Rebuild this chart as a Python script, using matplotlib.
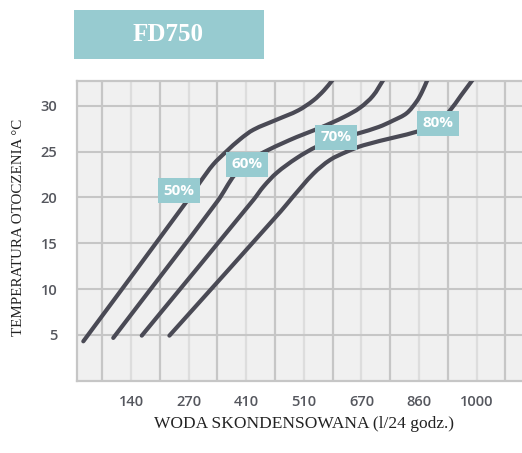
import matplotlib
matplotlib.use("Agg")
import numpy as np
import matplotlib.pyplot as plt
from matplotlib.patches import Rectangle, PathPatch
from matplotlib.path import Path

# ---- data (x in grid-position units of the non-linear axis) ----
tick_pos = [2, 4, 6, 8, 10, 12, 14]
tick_labels = ["140", "270", "410", "510", "670", "860", "1000"]
y_ticks = [5, 10, 15, 20, 25, 30]

x50 = [0.34, 3.93, 4.40, 4.85, 5.30, 5.80, 6.25, 7.06, 7.80, 8.33, 8.70, 9.00]
y50 = [4.30, 19.57, 21.70, 23.60, 25.00, 26.40, 27.40, 28.50, 29.50, 30.60, 31.70, 32.84]

x60 = [1.38, 5.00, 5.60, 6.10, 6.77, 7.75, 8.56, 9.40, 9.95, 10.40, 10.76]
y60 = [4.67, 19.60, 22.50, 24.00, 25.20, 26.60, 27.60, 28.80, 29.80, 31.10, 32.84]

x70 = [2.37, 6.25, 6.60, 7.06, 7.75, 8.45, 9.10, 9.89, 10.60, 11.10, 11.57, 11.92, 12.10, 12.29]
y70 = [4.92, 19.75, 21.20, 22.70, 24.30, 25.56, 26.30, 27.00, 27.70, 28.40, 29.20, 30.50, 31.50, 32.84]

x80 = [3.33, 7.20, 7.60, 8.33, 8.91, 9.49, 10.07, 11.20, 11.94, 12.60, 13.05, 13.45, 13.86]
y80 = [4.92, 18.50, 20.00, 22.60, 24.10, 25.00, 25.70, 26.60, 27.20, 28.00, 29.40, 31.10, 32.84]

series_labels = ["50%", "60%", "70%", "80%"]
label_x = [3.67, 6.03, 9.12, 12.67]
label_y = [20.71, 23.65, 26.60, 28.11]

title = "FD750"
xlabel = "WODA SKONDENSOWANA (l/24 godz.)"
ylabel = "TEMPERATURA OTOCZENIA °C"

# ---- style ----
W, H = 522, 453
LINE = "#4a4a55"
TEAL = "#97cbd0"
BG = "#f0f0f0"
GRID_DARK = "#c6c6c6"
GRID_LIGHT = "#dddddd"
TICK = "#55575e"

fig = plt.figure(figsize=(W / 100, H / 100), dpi=100)
fig.patch.set_facecolor("white")

ax = fig.add_axes([76.7 / W, 72.3 / H, 457.5 / W, 300 / H])
ax.set_facecolor(BG)
ax.set_xlim(0.11, 16)
ax.set_ylim(0, 32.75)

# vertical grid lines
for gx in range(1, 16):
    ax.axvline(gx, color=GRID_DARK if gx % 2 == 1 else GRID_LIGHT, lw=1.6, zorder=1)
for gy in y_ticks:
    ax.axhline(gy, color=GRID_DARK, lw=1.5, zorder=1)

for s in ax.spines.values():
    s.set_color(GRID_DARK)
    s.set_linewidth(1.6)
ax.spines["right"].set_visible(False)


def smooth_path(xs, ys, sx=28.79, sy=9.172):
    """Bezier path through the given points (drawing only)."""
    P = np.column_stack([np.asarray(xs) * sx, np.asarray(ys) * sy])
    n = len(P)
    verts = [P[0]]
    codes = [Path.MOVETO]
    tang = []
    for i in range(n):
        a = P[max(i - 1, 0)]
        b = P[min(i + 1, n - 1)]
        d = b - a
        tang.append(d / (np.hypot(*d) + 1e-9))
    for i in range(n - 1):
        L = np.hypot(*(P[i + 1] - P[i]))
        c1 = P[i] + tang[i] * L / 3
        c2 = P[i + 1] - tang[i + 1] * L / 3
        verts += [c1, c2, P[i + 1]]
        codes += [Path.CURVE4] * 3
    V = np.array(verts)
    V[:, 0] /= sx
    V[:, 1] /= sy
    return Path(V, codes)


for xs, ys in [(x50, y50), (x60, y60), (x70, y70), (x80, y80)]:
    ax.add_patch(PathPatch(smooth_path(xs, ys), fc="none", ec=LINE, lw=3.0,
                           capstyle="round", joinstyle="round", zorder=3))

for lab, lx, ly in zip(series_labels, label_x, label_y):
    ax.text(lx, ly, lab, ha="center", va="center", color="white",
            fontsize=11, fontweight="bold", family="Open Sans", zorder=5,
            bbox=dict(boxstyle="square,pad=0.36", fc=TEAL, ec="none"))

ax.set_xticks(tick_pos)
ax.set_xticklabels(tick_labels)
ax.set_yticks(y_ticks)
ax.tick_params(length=0, colors=TICK, labelsize=10.5)
ax.tick_params(axis="y", pad=14)
ax.tick_params(axis="x", pad=10)
for t in ax.get_xticklabels() + ax.get_yticklabels():
    t.set_family("Open Sans")
    t.set_fontweight("semibold")

fig.text(303.7 / W, 1 - 424 / H, xlabel, ha="center", va="center",
         family="Liberation Serif", fontsize=12.5, color="#222222")
fig.text(19 / W, 1 - 227 / H, ylabel, ha="center", va="center",
         rotation=90, family="Liberation Serif", fontsize=10.8, color="#222222")

# title box
fig.patches.append(Rectangle((74 / W, 1 - 59.3 / H), 190 / W, 49.3 / H,
                             transform=fig.transFigure, fc=TEAL, ec="none"))
fig.text(168.3 / W, 1 - 34.5 / H, title, ha="center", va="center",
         family="Liberation Serif", fontweight="bold", fontsize=18, color="white")

fig.savefig("out.png", dpi=100)
